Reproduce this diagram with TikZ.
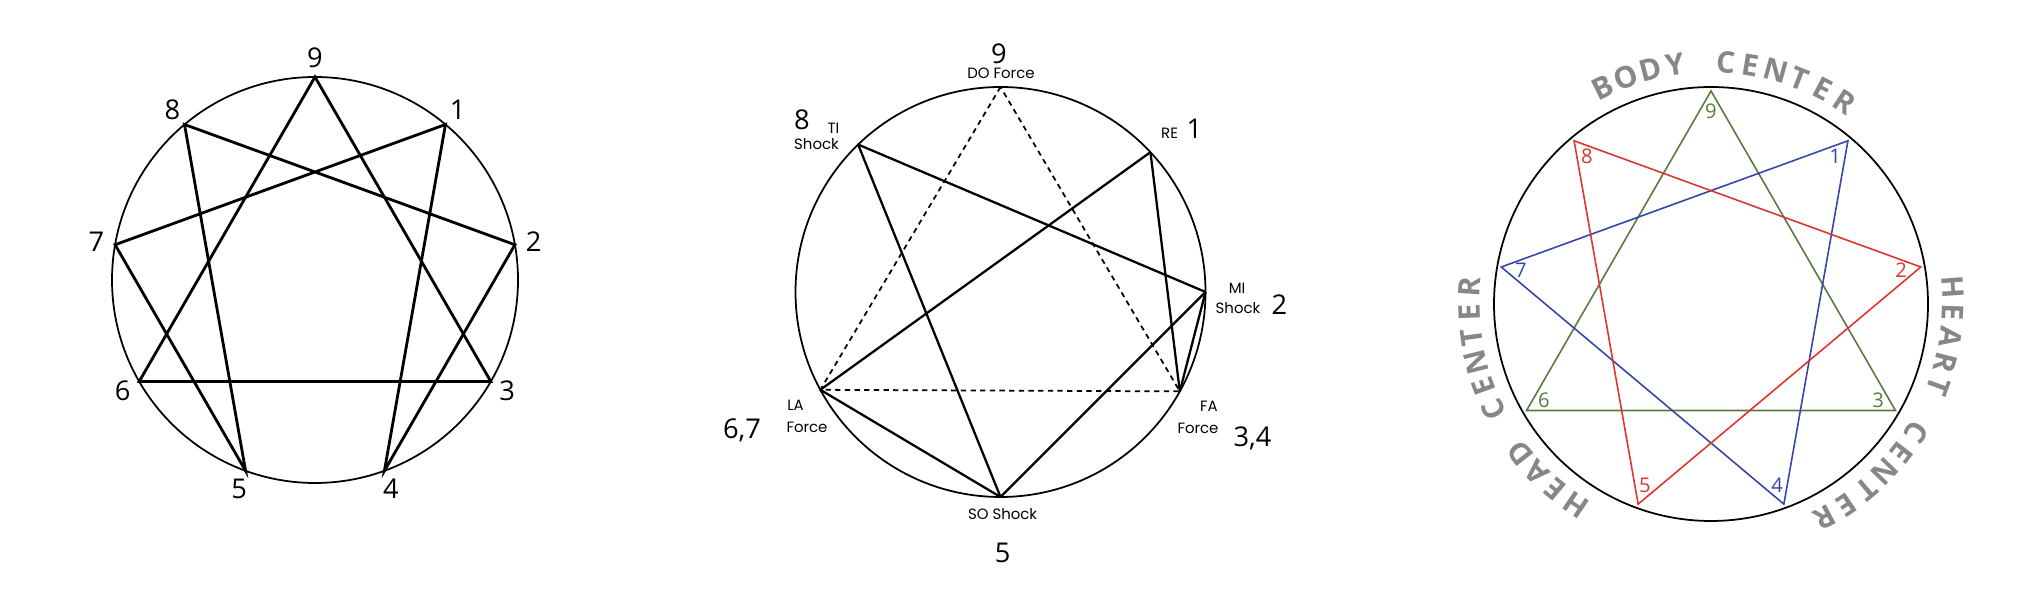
\documentclass[tikz,border=0pt]{standalone}
\usepackage{fontspec}
\setmainfont{Open Sans}
\newfontfamily\smallfont{Poppins}
\usepackage{tikz}
\usetikzlibrary{calc, positioning}
\definecolor{bodygreen}{RGB}{88,122,62}
\definecolor{heartred}{RGB}{222,52,44}
\definecolor{headblue}{RGB}{52,70,168}
\definecolor{centergray}{RGB}{135,135,135}

\tikzset{
	bignum/.style={font=\fontsize{15.5}{15.5}\selectfont, inner sep=0pt},
	smalltxt/.style={font=\smallfont\fontsize{8.5}{10}\selectfont, inner sep=0pt, align=center},
	starline/.style={line width=1.6pt, line join=miter},
	shockline/.style={line width=1.3pt},
	forceline/.style={line width=1pt, dashed, dash pattern=on 3pt off 2.5pt},
	typenum/.style={font=\fontsize{11.5}{11.5}\selectfont, inner sep=0pt},
	arcletter/.style={font=\bfseries\fontsize{17}{17}\selectfont, text=centergray, inner sep=0pt}
}

\begin{document}
\begin{tikzpicture}[x=0.02cm, y=0.02cm]

	\useasboundingbox (0,0) rectangle (2038,614);

	% Enneagram
	\begin{scope}[shift={(315,334)}]
		\draw[line width=1pt] (0,0) circle (203);
		\foreach \k in {1,...,9} {
			\coordinate (p\k) at ({90-40*\k}:203);
			\node[bignum] (n\k) at ({90-40*\k}:222) {\k};
		}
		\draw[starline] (p1) -- (p4) -- (p2) -- (p8) -- (p5) -- (p7) -- cycle;
		\draw[starline] (p9) -- (p3) -- (p6) -- cycle;
	\end{scope}

	% Octave
	\begin{scope}[shift={(1000.5,322)}]
		\draw[line width=1pt] (0,0) circle (205);
		\coordinate (do) at (90:205);
		\coordinate (re) at (43:205);
		\coordinate (mi) at (0:205);
		\coordinate (fa) at (-29:205);
		\coordinate (so) at (-90:205);
		\coordinate (la) at (208.5:205);
		\coordinate (ti) at (134:205);
	\end{scope}

	\draw[forceline] (do) -- (la) -- (fa) -- cycle;
	\draw[shockline] (ti) -- (mi);
	\draw[shockline] (ti) -- (so);
	\draw[shockline] (re) -- (la);
	\draw[shockline] (re) -- (fa);
	\draw[shockline] (mi) -- (fa);
	\draw[shockline] (mi) -- (so);
	\draw[shockline] (la) -- (so);

	\node[bignum] (o9) at (999,560) {9};
	\node[smalltxt] (odo) at (1001,540.4) {DO Force};
	\node[bignum] (o8) at (802,494) {8};
	\node[smalltxt] (oti) at (833.5,486) {TI};
	\node[smalltxt] (otishock) at (816.5,470.3) {Shock};
	\node[smalltxt] (ore) at (1169.6,481) {RE};
	\node[bignum] (o1) at (1194.5,485) {1};
	\node[smalltxt] (omi) at (1237,326) {MI};
	\node[smalltxt] (omishock) at (1238,306) {Shock};
	\node[bignum] (o2) at (1279.5,309) {2};
	\node[smalltxt] (ofa) at (1209,207.4) {FA};
	\node[smalltxt] (ofaforce) at (1198,186) {Force};
	\node[bignum] (o34) at (1252.5,176) {3,4};
	\node[smalltxt] (ola) at (795.5,208.6) {LA};
	\node[smalltxt] (olaforce) at (807,187) {Force};
	\node[bignum] (o67) at (742,184) {6,7};
	\node[smalltxt] (oso) at (1002.6,100.4) {SO Shock};
	\node[bignum] (o5) at (1002.6,61) {5};

	% Centers
	\begin{scope}[shift={(1711,310)}]
		\draw[line width=1pt] (0,0) circle (217);
		\foreach \k in {1,...,9} {
			\coordinate (c\k) at ({90-40*\k}:213);
		}
		\foreach \k/\col in {9/bodygreen,3/bodygreen,6/bodygreen,1/headblue,4/headblue,7/headblue,8/heartred,5/heartred,2/heartred} {
			\node[typenum, text=\col] (t\k) at ({90-40*\k}:193) {\k};
		}
		\draw[bodygreen, line width=0.9pt] (c9) -- (c3) -- (c6) -- cycle;
		\draw[headblue, line width=0.9pt] (c1) -- (c4) -- (c7) -- cycle;
		\draw[heartred, line width=0.9pt] (c8) -- (c5) -- (c2) -- cycle;

		% Arc texts
		\foreach \ch [count=\i from 0] in {B,O,D,Y,{},C,E,N,T,E,R} {
			\node[arcletter, rotate={86.5+30-6*\i-90}] at ({86.5+30-6*\i}:242) {\ch};
		}
		\foreach \ch [count=\i from 0] in {H,E,A,R,T,{},C,E,N,T,E,R} {
			\node[arcletter, rotate={-29+33-6*\i-90}] at ({-29+33-6*\i}:242) {\ch};
		}
		\foreach \ch [count=\i from 0] in {H,E,A,D,{},C,E,N,T,E,R} {
			\node[arcletter, rotate={206+30-6*\i-90}] at ({206+30-6*\i}:242) {\ch};
		}
	\end{scope}
\end{tikzpicture}
\end{document}
